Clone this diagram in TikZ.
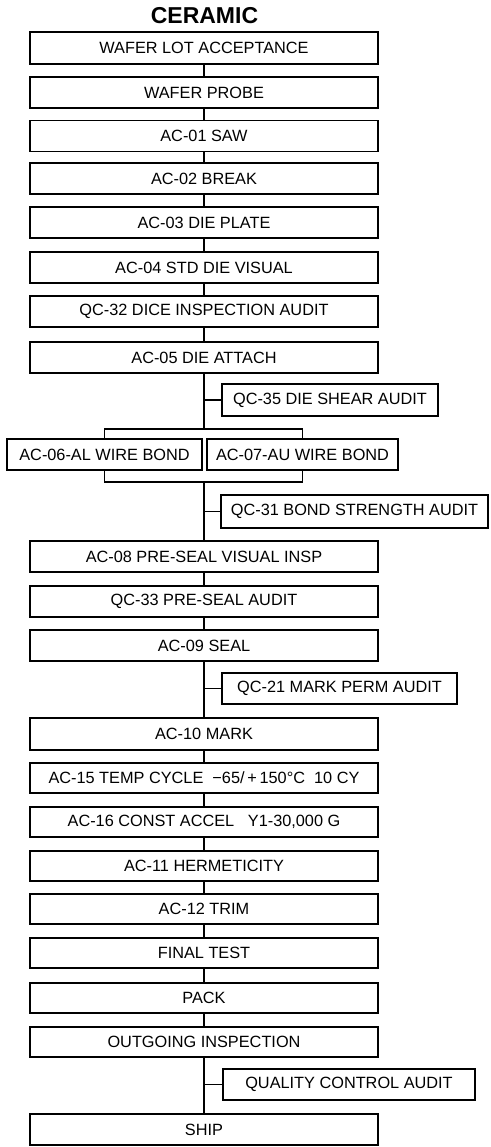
\documentclass[tikz,border=0pt]{standalone}
\usepackage{fontspec}
\setmainfont{Liberation Sans}
\begin{document}
\begin{tikzpicture}[x=1pt,y=-1pt,
  every node/.style={font=\fontsize{16.3}{18}\selectfont},
  box/.style={draw,line width=1.4pt,minimum height=31pt,inner sep=0pt,anchor=center},
  mainbox/.style={box,minimum width=348pt},
  conn/.style={line width=1.4pt}]
\useasboundingbox (0,0) rectangle (490,1147);
\node[font=\fontsize{23}{25}\selectfont\bfseries] (title) at (204.5,15.5) {CERAMIC};
\node[mainbox,minimum height=32pt] (wla) at (204,48) {WAFER LOT ACCEPTANCE};
\node[mainbox] (wp) at (204,92.5) {WAFER PROBE};
\node[mainbox] (ac01) at (204,136) {AC-01 SAW};
\node[mainbox] (ac02) at (204,178.5) {AC-02 BREAK};
\node[mainbox] (ac03) at (204,222.5) {AC-03 DIE PLATE};
\node[mainbox] (ac04) at (204,267.5) {AC-04 STD DIE VISUAL};
\node[mainbox] (qc32) at (204,311.5) {QC-32 DICE INSPECTION AUDIT};
\node[mainbox] (ac05) at (204,357.5) {AC-05 DIE ATTACH};
\node[box,minimum width=216pt,minimum height=32pt] (qc35) at (330,400) {QC-35 DIE SHEAR AUDIT};
\node[box,minimum width=195pt] (ac06) at (104.5,454.5) {AC-06-AL WIRE BOND};
\node[box,minimum width=191pt] (ac07) at (302.5,454.5) {AC-07-AU WIRE BOND};
\coordinate (jt) at (204,429);
\coordinate (jb) at (204,482);
\node[box,minimum width=267pt,minimum height=33pt] (qc31) at (354.5,511.5) {QC-31 BOND STRENGTH AUDIT};
\node[mainbox] (ac08) at (204,556.5) {AC-08 PRE-SEAL VISUAL INSP};
\node[mainbox] (qc33) at (204,601.5) {QC-33 PRE-SEAL AUDIT};
\node[mainbox] (ac09) at (204,645.5) {AC-09 SEAL};
\node[box,minimum width=235pt] (qc21) at (339.5,688.5) {QC-21 MARK PERM AUDIT};
\node[mainbox,minimum height=32pt] (ac10) at (204,734) {AC-10 MARK};
\node[mainbox,minimum height=30pt] (ac15) at (204,778) {AC-15 TEMP CYCLE \ −65/\,+\,150°C\ \ 10 CY};
\node[mainbox,minimum height=30pt] (ac16) at (204,822) {AC-16 CONST ACCEL\ \ \ Y1-30,000 G};
\node[mainbox,minimum height=30pt] (ac11) at (204,866) {AC-11 HERMETICITY};
\node[mainbox,minimum height=30pt] (ac12) at (204,909) {AC-12 TRIM};
\node[mainbox,minimum height=30pt] (ft) at (204,953) {FINAL TEST};
\node[mainbox,minimum height=30pt] (pack) at (204,998) {PACK};
\node[mainbox,minimum height=30pt] (oi) at (204,1042) {OUTGOING INSPECTION};
\node[box,minimum width=252pt] (qca) at (349,1084.5) {QUALITY CONTROL AUDIT};
\node[mainbox] (ship) at (204,1129.5) {SHIP};
% connectors
\draw[conn] (wla) -- (wp);
\draw[conn] (wp) -- (ac01);
\draw[conn] (ac01) -- (ac02);
\draw[conn] (ac02) -- (ac03);
\draw[conn] (ac03) -- (ac04);
\draw[conn] (ac04) -- (qc32);
\draw[conn] (qc32) -- (ac05);
\draw[conn] (ac05) -- (jt);
\draw[conn] (qc35.west) -- (qc35.west -| jt);
\draw[conn] (ac06.north) |- (jt) -| (ac07.north);
\draw[conn] (ac06.south) |- (jb) -| (ac07.south);
\draw[conn] (jb) -- (ac08);
\draw[conn] (qc31.west) -- (qc31.west -| jb);
\draw[conn] (ac08) -- (qc33);
\draw[conn] (qc33) -- (ac09);
\draw[conn] (ac09) -- (ac10);
\draw[conn] (qc21.west) -- (qc21.west -| ac09.south);
\draw[conn] (ac10) -- (ac15);
\draw[conn] (ac15) -- (ac16);
\draw[conn] (ac16) -- (ac11);
\draw[conn] (ac11) -- (ac12);
\draw[conn] (ac12) -- (ft);
\draw[conn] (ft) -- (pack);
\draw[conn] (pack) -- (oi);
\draw[conn] (oi) -- (ship);
\draw[conn] (qca.west) -- (qca.west -| oi.south);
\end{tikzpicture}
\end{document}
